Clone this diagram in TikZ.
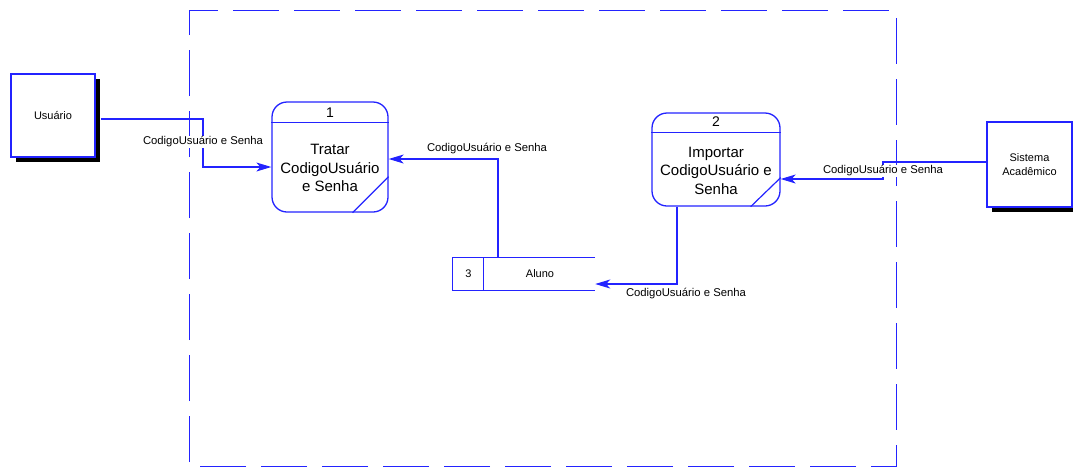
\documentclass[tikz,border=0pt]{standalone}
\usepackage{fontspec}
\setmainfont{Liberation Sans}
\usetikzlibrary{arrows.meta,calc}
\definecolor{dfd}{RGB}{35,35,255}
\begin{document}
\begin{tikzpicture}[x=1pt,y=-1pt,
  ent/.style={draw=dfd, line width=1.3pt, fill=white, minimum width=84pt, minimum height=83pt, inner sep=0pt, font=\fontsize{11}{14}\selectfont, align=center},
  shadowbox/.style={fill=black, minimum width=84pt, minimum height=83pt, inner sep=0pt},
  proc/.style={draw=dfd, line width=1.3pt, rounded corners=15pt, inner sep=0pt},
  inner/.style={draw=dfd, line width=1.2pt},
  ptext/.style={font=\fontsize{15}{18.5}\selectfont, align=center, inner sep=0pt},
  pnum/.style={font=\fontsize{14}{16}\selectfont, inner sep=0pt},
  lbl/.style={fill=white, inner sep=1pt, font=\fontsize{11.3}{13}\selectfont},
  stxt/.style={font=\fontsize{11}{13}\selectfont, inner sep=0pt},
  flow/.style={draw=dfd, line width=1.2pt, -{Stealth[length=15pt,width=9pt,inset=4pt]}},
  bnd/.style={draw=dfd, line width=1pt, dash pattern=on 46pt off 15pt, dash phase=17pt}
]
\useasboundingbox (0,0) rectangle (1073,467);

% system boundary
\draw[bnd] (189,10) -- (896,10) -- (896,466) -- (189,466) -- cycle;

% external entities
\node[shadowbox] (usersh) at (58,120.5) {};
\node[ent] (user) at (53,115.5) {Usuário};
\node[shadowbox, minimum width=85pt, minimum height=85pt] (sissh) at (1034,169.5) {};
\node[ent, minimum width=85pt, minimum height=85pt] (sis) at (1029.5,164.5) {Sistema\\Acadêmico};

% process 1
\node[proc, minimum width=116pt, minimum height=110pt] (p1) at (330,157) {};
\draw[inner] ($(p1.north west)+(0,-21pt)$) -- ($(p1.north east)+(0,-21pt)$);
\draw[inner] ($(p1.south east)+(0,36pt)$) -- ($(p1.south east)+(-36pt,0)$);
\node[pnum] (p1n) at (330,113) {1};
\node[ptext] (p1t) at (330,168) {Tratar\\CodigoUsuário\\e Senha};

% process 2
\node[proc, minimum width=128pt, minimum height=93pt] (p2) at (716,159.5) {};
\draw[inner] ($(p2.north west)+(0,-20pt)$) -- ($(p2.north east)+(0,-20pt)$);
\draw[inner] ($(p2.south east)+(0,29pt)$) -- ($(p2.south east)+(-30pt,0)$);
\node[pnum] (p2n) at (716,122) {2};
\node[ptext] (p2t) at (716,170.5) {Importar\\CodigoUsuário e\\Senha};

% data store
\node[minimum width=142pt, minimum height=32pt, inner sep=0pt] (store) at (524,274) {};
\draw[inner] (store.north east) -- (store.north west) -- (store.south west) -- (store.south east);
\draw[inner] ($(store.north west)+(31pt,0)$) -- ($(store.south west)+(31pt,0)$);
\node[stxt] (storen) at (468.5,274) {3};
\node[stxt] (storet) at (540,274) {Aluno};

% flows
\draw[flow] ([xshift=5pt,yshift=-3.5pt]user.east) -| (203,143) |- ([yshift=-10pt]p1.west);
\draw[flow] ([xshift=-26pt]store.north) |- ([yshift=-2pt]p1.east);
\draw[flow] ([xshift=-39pt]p2.south) |- ([yshift=-10pt]store.east);
\draw[flow] ([yshift=2.5pt]sis.west) -| (883,171) |- ([yshift=-19.5pt]p2.east);

% flow labels
\node[lbl] (l1) at (203,142) {CodigoUsuário e Senha};
\node[lbl] (l2) at (487,149) {CodigoUsuário e Senha};
\node[lbl] (l3) at (686,294) {CodigoUsuário e Senha};
\node[lbl] (l4) at (883,171) {CodigoUsuário e Senha};
\end{tikzpicture}
\end{document}
